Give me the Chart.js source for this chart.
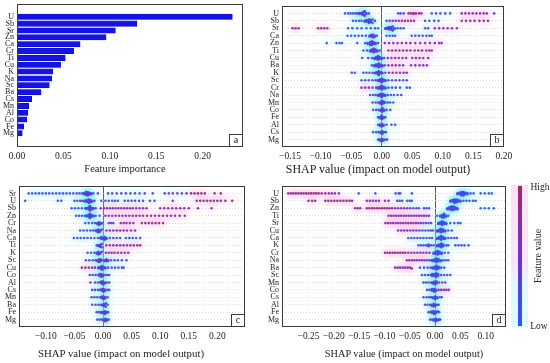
<!DOCTYPE html>
<html>
<head>
<meta charset="utf-8">
<script src="https://cdn.jsdelivr.net/npm/chart.js@4.4.0/dist/chart.umd.min.js"></script>
<style>
  body { margin: 0; background: #fff; width: 550px; height: 363px; overflow: hidden; position: relative; font-family: 'Liberation Serif', 'Times New Roman', serif; color: #222; }
  canvas { position: absolute; }
  .t { position: absolute; white-space: nowrap; transform: translate(-50%, -50%); }
</style>
</head>
<body>
<canvas id="cA" width="262" height="182" style="left:0;top:0"></canvas>
<canvas id="cB" width="288" height="182" style="left:262px;top:0"></canvas>
<canvas id="cC" width="262" height="183" style="left:0;top:180px"></canvas>
<canvas id="cD" width="288" height="183" style="left:262px;top:180px"></canvas>

<div class="t" style="left:125px;top:168px;font-size:10.5px">Feature importance</div>
<div class="t" style="left:378px;top:169px;font-size:12px">SHAP value (impact on model output)</div>
<div class="t" style="left:121px;top:353px;font-size:10.8px">SHAP value (impact on model output)</div>
<div class="t" style="left:404px;top:353px;font-size:10.3px">SHAP value (impact on model output)</div>

<div style="position:absolute;left:511px;top:185px;width:17px;height:142px;background:linear-gradient(#fbe1f5,#f7e6fb 55%,#e2fbfd 72%,#dcfcfe)"></div>
<div id="cbar" style="position:absolute;left:517.5px;top:186px;width:4px;height:140px"></div>
<div class="t" style="left:540px;top:187px;font-size:9.5px">High</div>
<div class="t" style="left:539px;top:326px;font-size:9.5px">Low</div>
<div class="t" style="left:537px;top:256px;font-size:10px;transform:translate(-50%,-50%) rotate(-90deg)">Feature value</div>

<script>
// ---- panel a : mean |SHAP| ----
const featA = ['U','Sb','Sr','Zn','Ca','Cr','Ti','Cu','K','Na','Sc','Ba','Cs','Mn','Al','Co','Fe','Mg'];
const impA = [0.232, 0.129, 0.106, 0.096, 0.068, 0.061, 0.052, 0.047, 0.0385, 0.0374, 0.0348, 0.026, 0.0158, 0.0126, 0.0115, 0.0105, 0.0072, 0.0057];
const tickA = [0, 0.05, 0.10, 0.15, 0.20];

// ---- beeswarm panels : [shap value, feature value (0 low - 1 high), count] ----
const featB = ['U','Sb','Sr','Ca','Zn','Ti','Cu','Ba','K','Sc','Cr','Na','Mn','Co','Fe','Al','Cs','Mg'];
const tickB = [-0.15, -0.10, -0.05, 0, 0.05, 0.10, 0.15, 0.20];
const dotsB = [
  [[-0.060,.1],[-0.055,.1],[-0.051,.15],[-0.047,.1],[-0.043,.15],[-0.040,.2],[-0.037,.2,2],[-0.034,.25,3],[-0.031,.3,6],[-0.028,.3,5],[-0.025,.25,2],[-0.021,.2],
   [0.027,.25],[0.031,.3],[0.036,.3],[0.044,.8],[0.048,.85],[0.052,.9,2],[0.056,.85],[0.061,.8],[0.065,.7],[0.082,.35],[0.089,.3],[0.096,.35],[0.104,.3],[0.112,.4],
   [0.131,.6],[0.137,.7],[0.143,.65],[0.149,.75],[0.155,.8],[0.161,.7],[0.167,.75],[0.172,.6],[0.184,.4]],
  [[-0.047,.1],[-0.042,.1],[-0.037,.15],[-0.033,.15],[-0.028,.2,2],[-0.025,.25,3],[-0.021,.3,6],[-0.018,.3,4],[-0.015,.25,2],[-0.011,.2],
   [0.008,.4],[0.013,.45],[0.018,.5],[0.023,.5],[0.028,.55],[0.033,.75],[0.038,.8],[0.043,.85],[0.048,.8],[0.053,.75],[0.071,.3],[0.078,.35],[0.086,.3],[0.093,.35],
   [0.131,.8],[0.138,.85],[0.145,.8],[0.152,.85],[0.160,.8],[0.167,.85],[0.174,.8]],
  [[-0.146,.8],[-0.141,.75],[-0.136,.8],[-0.104,.85],[-0.099,.8],[-0.094,.85],[-0.089,.75],[-0.055,.15],[-0.048,.1],[-0.040,.15],[-0.033,.1],[-0.025,.15],[-0.018,.2],[-0.011,.2],[-0.006,.25],
   [0.006,.3,2],[0.009,.3,3],[0.012,.35,5],[0.015,.35,5],[0.018,.3,3],[0.021,.3,2],[0.026,.3],[0.031,.25],[0.036,.3],[0.071,.3],[0.076,.35],[0.087,.5],[0.094,.55],[0.101,.5],[0.108,.6],[0.115,.55],[0.123,.5]],
  [[-0.056,.15],[-0.050,.2],[-0.044,.2],[-0.038,.25],[-0.032,.3],[-0.026,.3],[-0.020,.3,2],[-0.017,.35,3],[-0.014,.4,4],[-0.011,.35,2],[-0.008,.3],
   [0.008,.3],[0.013,.35],[0.018,.3],[0.022,.3],[0.049,.3],[0.055,.35],[0.061,.3],[0.067,.35],[0.073,.3],[0.078,.35],[0.082,.3]],
  [[-0.090,.15],[-0.074,.1],[-0.069,.15],[-0.065,.1],[-0.040,.2],[-0.027,.2],[-0.023,.25,2],[-0.019,.3,4],[-0.016,.35,5],[-0.013,.3,3],[-0.010,.3,2],[-0.006,.3],
   [0.005,.6],[0.012,.6],[0.019,.65],[0.026,.6],[0.033,.7],[0.040,.65],[0.047,.6],[0.055,.7],[0.063,.6],[0.071,.65],[0.079,.6],[0.087,.55],[0.094,.6],[0.098,.5]],
  [[-0.030,.2],[-0.024,.25],[-0.019,.3,2],[-0.016,.35,3],[-0.013,.4,5],[-0.010,.35,3],[-0.007,.3,2],[-0.003,.3],
   [0.011,.7],[0.017,.75],[0.023,.8],[0.029,.75],[0.035,.8],[0.041,.75],[0.047,.7],[0.054,.8],[0.060,.75],[0.066,.7],[0.073,.8],[0.078,.75],[0.082,.7]],
  [[-0.032,.15],[-0.022,.2],[-0.016,.25],[-0.012,.3,2],[-0.009,.3,3],[-0.006,.35,5],[-0.003,.3,3],[0.000,.3,2],[0.004,.3],
   [0.010,.6],[0.016,.65],[0.022,.6],[0.028,.65],[0.034,.6],[0.040,.65],[0.050,.6],[0.056,.65],[0.062,.6],[0.068,.55],[0.076,.6]],
  [[-0.016,.2],[-0.012,.25,2],[-0.009,.3,3],[-0.005,.35,5],[-0.002,.3,3],[0.001,.3,2],[0.005,.4],
   [0.011,.6],[0.017,.6],[0.023,.65],[0.029,.6],[0.035,.6],[0.048,.6],[0.055,.55],[0.062,.6],[0.068,.55],[0.074,.6]],
  [[-0.049,.2],[-0.044,.2],[-0.030,.25],[-0.025,.25],[-0.020,.3],[-0.015,.3],[-0.011,.3,2],[-0.008,.35,3],[-0.005,.35,5],[-0.002,.3,3],[0.001,.3,2],
   [0.006,.4],[0.012,.5],[0.018,.55],[0.024,.5],[0.030,.55],[0.036,.5],[0.041,.5]],
  [[-0.033,.2],[-0.027,.25],[-0.021,.3],[-0.015,.3],[-0.010,.3],[-0.006,.3,2],[-0.003,.35,3],[0.000,.4,6],[0.003,.35,3],[0.006,.35,2],
   [0.011,.4],[0.017,.45],[0.023,.4],[0.029,.45],[0.035,.4],[0.041,.45]],
  [[-0.033,.6],[-0.027,.55],[-0.021,.6],[-0.015,.5],[-0.009,.4],[-0.006,.35,2],[-0.003,.35,3],[0.000,.35,5],[0.003,.3,3],[0.006,.3,2],
   [0.011,.3],[0.017,.3],[0.023,.3],[0.030,.3],[0.041,.3],[0.046,.3]],
  [[-0.019,.3],[-0.014,.3],[-0.010,.3],[-0.006,.35,2],[-0.003,.35,3],[0.000,.4,6],[0.003,.35,3],[0.006,.3,2],[0.010,.35],[0.015,.35],[0.020,.4],[0.026,.35],[0.032,.4]],
  [[-0.015,.3],[-0.010,.3],[-0.006,.3],[-0.003,.35,2],[0.000,.35,5],[0.003,.35,3],[0.006,.3],[0.010,.3],[0.014,.35],[0.019,.3]],
  [[-0.014,.3],[-0.009,.3],[-0.005,.3],[-0.002,.35,2],[0.001,.35,5],[0.004,.35,2],[0.008,.3],[0.014,.35]],
  [[-0.006,.3],[-0.003,.35,2],[0.000,.35,5],[0.003,.35,2],[0.006,.3]],
  [[-0.006,.3],[-0.003,.35,2],[0.000,.35,4],[0.003,.35,2],[0.008,.3],[0.016,.35],[0.022,.3]],
  [[-0.014,.3],[-0.009,.3],[-0.005,.3],[-0.002,.35,2],[0.001,.35,4],[0.004,.3],[0.007,.3]],
  [[-0.006,.3],[-0.003,.35,2],[0.000,.35,4],[0.003,.35,2],[0.006,.3],[0.009,.3]]
];

const featC = ['Sr','U','Sb','Zn','Cr','Na','Ca','Ti','K','Sc','Cu','Co','Al','Cs','Mn','Ba','Fe','Mg'];
const tickC = [-0.10, -0.05, 0, 0.05, 0.10, 0.15, 0.20];
const dotsC = [
  [[-0.130,.1],[-0.124,.1],[-0.118,.1],[-0.112,.1],[-0.106,.1],[-0.100,.1],[-0.094,.1],[-0.088,.1],[-0.082,.1],[-0.076,.1],[-0.070,.1],[-0.064,.1],[-0.058,.1],[-0.052,.1],[-0.046,.1],[-0.041,.15],[-0.036,.15],
   [-0.033,.2,2],[-0.030,.25,3],[-0.027,.3,6],[-0.024,.3,4],[-0.021,.25,2],[-0.017,.2],[-0.009,.3],
   [0.009,.3],[0.016,.3],[0.024,.3],[0.032,.35],[0.040,.3],[0.048,.35],[0.056,.3],[0.064,.35],[0.073,.35],[0.087,.4],
   [0.108,.4],[0.115,.4],[0.122,.45],[0.130,.4],[0.138,.45],[0.146,.4],[0.154,.85],[0.160,.85],[0.166,.8],[0.172,.85],[0.178,.8],[0.195,.8],[0.206,.75]],
  [[-0.136,.15],[-0.079,.1],[-0.073,.1],[-0.050,.1],[-0.045,.1],[-0.040,.15],[-0.036,.15],[-0.032,.2,2],[-0.029,.25,3],[-0.025,.3,6],[-0.022,.3,4],[-0.019,.25,2],[-0.015,.2],
   [-0.003,.3],[0.004,.3],[0.010,.3],[0.016,.35],[0.021,.3],[0.026,.35],[0.038,.4],[0.044,.4],[0.050,.45],[0.056,.4],[0.063,.45],[0.070,.4],[0.082,.4],[0.090,.45],[0.122,.5],
   [0.164,.85],[0.170,.85],[0.176,.8],[0.182,.85],[0.188,.8],[0.194,.85],[0.200,.8],[0.206,.85],[0.214,.8],[0.226,.8]],
  [[-0.055,.15],[-0.049,.15],[-0.043,.15],[-0.037,.15],[-0.031,.2],[-0.029,.2,2],[-0.026,.25,3],[-0.023,.3,6],[-0.020,.3,4],[-0.017,.25,2],[-0.013,.25],
   [-0.004,.5],[0.002,.55],[0.007,.6],[0.012,.55],[0.017,.6],[0.022,.65],[0.027,.6],[0.032,.6],[0.037,.65],[0.042,.6],[0.047,.65],[0.052,.6],[0.058,.6],[0.064,.65],[0.070,.6],[0.076,.6],
   [0.100,.7],[0.107,.7],[0.114,.75],[0.121,.7],[0.128,.7],[0.135,.75],[0.142,.7],[0.150,.7],[0.166,.6],[0.190,.6]],
  [[-0.047,.15],[-0.042,.15],[-0.037,.15],[-0.032,.2],[-0.029,.2,2],[-0.026,.25,3],[-0.023,.3,7],[-0.020,.3,4],[-0.017,.25,2],[-0.013,.25],[-0.006,.3],
   [0.004,.6],[0.010,.6],[0.016,.65],[0.022,.6],[0.028,.65],[0.034,.6],[0.040,.7],[0.046,.65],[0.052,.6],[0.058,.7],[0.064,.65],[0.070,.6],[0.077,.7],[0.084,.65],[0.091,.7],[0.098,.65],
   [0.105,.7],[0.112,.65],[0.119,.7],[0.126,.65],[0.134,.7],[0.143,.65]],
  [[-0.031,.2],[-0.025,.2],[-0.019,.2],[-0.014,.25],[-0.010,.3,2],[-0.007,.3,4],[-0.004,.3,2],[-0.001,.3],
   [0.010,.4],[0.014,.4],[0.018,.45],[0.031,.7],[0.036,.7],[0.041,.75],[0.047,.7],[0.053,.7],[0.068,.85],[0.074,.85],[0.080,.85],[0.086,.85],[0.092,.85],[0.098,.85],[0.105,.8]],
  [[-0.040,.2],[-0.034,.2],[-0.028,.2],[-0.022,.2],[-0.017,.25],[-0.013,.25],[-0.011,.3,2],[-0.008,.3,4],[-0.005,.3,2],[-0.002,.3],
   [0.006,.6],[0.012,.6],[0.018,.65],[0.024,.6],[0.030,.6],[0.036,.65],[0.042,.6],[0.049,.6],[0.056,.6]],
  [[-0.051,.2],[-0.045,.2],[-0.039,.2],[-0.033,.2],[-0.027,.2],[-0.021,.2],[-0.015,.25],[-0.009,.25],[-0.005,.3],[-0.003,.3,2],[0.000,.3,2],[0.003,.35,4],[0.006,.3,2],
   [0.012,.3],[0.018,.3],[0.024,.3],[0.030,.3],[0.040,.25],[0.046,.25],[0.052,.25],[0.058,.25],[0.065,.25]],
  [[-0.011,.3],[-0.008,.3,2],[-0.005,.3,4],[-0.002,.3,2],
   [0.006,.7],[0.012,.7],[0.018,.7],[0.024,.7],[0.030,.7],[0.036,.7],[0.042,.7],[0.048,.7],[0.054,.7],[0.060,.7],[0.065,.7]],
  [[-0.027,.2],[-0.021,.2],[-0.015,.25],[-0.011,.3,2],[-0.008,.3,4],[-0.005,.3,2],[-0.002,.3],
   [0.005,.65],[0.010,.65],[0.015,.65],[0.020,.65],[0.026,.65],[0.032,.65],[0.038,.65],[0.044,.65]],
  [[-0.030,.3],[-0.024,.3],[-0.018,.3],[-0.013,.3],[-0.010,.3,2],[-0.007,.35,4],[-0.004,.35,3],[-0.001,.35],[0.003,.4,2],[0.006,.4,3],[0.009,.4,2],
   [0.014,.4],[0.020,.4],[0.026,.4],[0.033,.4],[0.041,.4]],
  [[-0.037,.7],[-0.031,.7],[-0.025,.7],[-0.019,.6],[-0.014,.6],[-0.008,.3,2],[-0.005,.3,3],[-0.002,.35,5],[0.001,.3,3],[0.004,.3,2],
   [0.009,.3],[0.015,.3],[0.021,.3],[0.027,.3],[0.033,.3],[0.036,.3]],
  [[-0.023,.3],[-0.018,.3],[-0.013,.3],[-0.008,.3],[-0.006,.3,2],[-0.003,.35,4],[0.000,.35,2],[0.004,.4],[0.008,.4],[0.011,.4]],
  [[-0.022,.6],[-0.014,.3],[-0.009,.3],[-0.005,.3],[-0.003,.35,2],[0.000,.35,4],[0.003,.35,2],[0.007,.4],[0.011,.4]],
  [[-0.019,.3],[-0.014,.3],[-0.009,.3],[-0.005,.3],[-0.002,.35,2],[0.001,.35,4],[0.004,.35,2],[0.008,.4],[0.011,.4]],
  [[-0.020,.3],[-0.015,.3],[-0.010,.3],[-0.005,.3],[-0.002,.35,2],[0.001,.35,4],[0.004,.35,2],[0.008,.4]],
  [[-0.019,.3],[-0.013,.3],[-0.008,.3],[-0.004,.3],[-0.001,.35,2],[0.002,.35,4],[0.005,.35,2],[0.008,.4]],
  [[-0.011,.3],[-0.007,.3],[-0.003,.35,2],[0.000,.35,2],[0.003,.35,4],[0.006,.35,2],[0.009,.4]],
  [[-0.010,.3],[-0.006,.3],[-0.002,.3],[0.001,.35,2],[0.004,.35,4],[0.007,.35,2],[0.010,.4]]
];

const featD = ['U','Sb','Zn','Ti','Sr','Cu','Ca','K','Cr','Na','Ba','Sc','Mn','Co','Cs','Al','Fe','Mg'];
const tickD = [-0.25, -0.20, -0.15, -0.10, -0.05, 0, 0.05, 0.10];
const dotsD = [
  [[-0.290,.85],[-0.285,.85],[-0.280,.85],[-0.275,.85],[-0.270,.85],[-0.265,.85],[-0.260,.85],[-0.255,.85],[-0.250,.85],[-0.245,.85],[-0.240,.85],[-0.235,.85],[-0.230,.85],[-0.224,.85],
   [-0.217,.7],[-0.210,.7],[-0.204,.7],[-0.198,.7],[-0.190,.5],[-0.151,.4],[-0.118,.3],[-0.078,.3],[-0.072,.3],[-0.069,.3],[-0.046,.25],
   [0.044,.15,2],[0.048,.15,3],[0.052,.2,6],[0.056,.2,6],[0.060,.15,3],[0.064,.15,2],[0.070,.15],[0.076,.15],[0.090,.15],[0.098,.15],[0.106,.15],[0.112,.15]],
  [[-0.250,.8],[-0.243,.8],[-0.237,.8],[-0.217,.85],[-0.211,.85],[-0.205,.85],[-0.199,.85],[-0.193,.85],[-0.187,.85],[-0.181,.85],[-0.175,.85],[-0.169,.85],[-0.164,.85],
   [-0.135,.6],[-0.129,.6],[-0.123,.6],[-0.117,.6],[-0.111,.6],[-0.099,.5],[-0.092,.5],[-0.075,.4],[-0.070,.4],[-0.065,.4],[-0.055,.3],[-0.050,.3],[-0.046,.3],
   [0.030,.15,2],[0.034,.15,3],[0.038,.2,6],[0.042,.2,5],[0.046,.15,3],[0.050,.15,2],[0.056,.15],[0.062,.15],[0.068,.15],[0.075,.15],[0.080,.15]],
  [[-0.158,.7],[-0.153,.7],[-0.148,.7],[-0.135,.85],[-0.130,.85],[-0.125,.85],[-0.120,.85],[-0.115,.85],[-0.110,.85],[-0.105,.85],[-0.100,.85],[-0.095,.85],[-0.090,.85],[-0.085,.85],
   [-0.079,.5],[-0.073,.5],[-0.067,.5],[-0.061,.5],[-0.055,.5],[-0.049,.45],[-0.043,.45],[-0.037,.4],[-0.032,.4],[-0.022,.3],[-0.017,.3],[-0.012,.3],
   [0.024,.15,2],[0.028,.15,3],[0.032,.2,5],[0.036,.2,5],[0.040,.15,3],[0.044,.15,2],[0.090,.15],[0.098,.15],[0.106,.15],[0.116,.15]],
  [[-0.092,.6],[-0.087,.6],[-0.082,.6],[-0.077,.6],[-0.072,.6],[-0.067,.6],[-0.062,.6],[-0.057,.6],[-0.052,.6],[-0.047,.6],[-0.042,.6],[-0.037,.6],[-0.032,.6],[-0.027,.6],[-0.022,.6],[-0.017,.6],[-0.012,.6],
   [0.004,.3],[0.010,.15,2],[0.014,.15,4],[0.018,.2,5],[0.022,.15,2],[0.026,.15]],
  [[-0.098,.75],[-0.093,.75],[-0.088,.75],[-0.083,.75],[-0.078,.75],[-0.073,.75],[-0.068,.75],[-0.063,.75],[-0.058,.7],[-0.053,.7],[-0.048,.65],[-0.043,.6],[-0.038,.55],[-0.033,.5],[-0.028,.5],[-0.023,.45],[-0.018,.4],[-0.013,.4],[-0.008,.35],
   [0.006,.2,2],[0.010,.2,3],[0.014,.2,5],[0.018,.2,3],[0.022,.2,2],[0.030,.2],[0.038,.2],[0.045,.2],[0.050,.2]],
  [[-0.073,.5],[-0.067,.5],[-0.061,.5],[-0.055,.5],[-0.049,.5],[-0.043,.5],[-0.037,.5],[-0.031,.5],[-0.025,.45],[-0.019,.45],[-0.013,.3],[-0.008,.3],[-0.004,.3],
   [0.004,.2,2],[0.008,.2,3],[0.012,.2,5],[0.016,.2,3],[0.020,.2,2],[0.026,.25],[0.033,.25]],
  [[-0.053,.25],[-0.047,.25],[-0.041,.25],[-0.035,.25],[-0.029,.25],[-0.023,.25],[-0.017,.25],[-0.011,.25],[-0.006,.25],
   [0.004,.2,2],[0.008,.2,3],[0.012,.2,5],[0.016,.2,3],[0.020,.2,2],[0.026,.3],[0.032,.3],[0.038,.3],[0.043,.3]],
  [[-0.033,.3],[-0.028,.3],[-0.023,.3],[-0.018,.3],[-0.013,.3,3],[-0.008,.3],[-0.003,.3],
   [0.004,.2,2],[0.008,.2,3],[0.012,.2,5],[0.016,.2,3],[0.022,.3],[0.026,.3],[0.040,.3],[0.046,.3],[0.052,.3],[0.058,.3],[0.066,.3]],
  [[-0.099,.85],[-0.094,.85],[-0.089,.85],[-0.084,.85],[-0.079,.85],[-0.074,.85],[-0.069,.85],[-0.064,.85],[-0.059,.85],[-0.053,.85],
   [-0.047,.5],[-0.041,.5],[-0.035,.5],[-0.029,.5],[-0.023,.5],[-0.017,.5],[-0.011,.5],
   [-0.003,.2,2],[0.001,.2,3],[0.005,.2,5],[0.009,.2,3],[0.013,.2,2],[0.019,.25],[0.026,.25]],
  [[-0.056,.65],[-0.051,.65],[-0.046,.65],[-0.041,.65],[-0.036,.65],[-0.031,.65],[-0.026,.65],[-0.021,.65],[-0.016,.65],[-0.011,.3],[-0.007,.3],
   [-0.005,.2,2],[-0.001,.2,3],[0.003,.2,5],[0.007,.2,3],[0.011,.2,2],[0.016,.3],[0.021,.3],[0.026,.3]],
  [[-0.079,.6],[-0.074,.6],[-0.069,.6],[-0.064,.6],[-0.059,.6],[-0.054,.6],[-0.049,.6],[-0.046,.6],[-0.030,.3],[-0.022,.3],[-0.015,.3],[-0.009,.3],
   [-0.005,.2,2],[-0.001,.2,3],[0.003,.2,5],[0.007,.2,3],[0.012,.3],[0.018,.3]],
  [[-0.026,.3],[-0.020,.3],[-0.014,.3],[-0.009,.3],[-0.006,.2,2],[-0.002,.2,3],[0.002,.2,5],[0.006,.2,3],[0.012,.4],[0.018,.4],[0.024,.4],[0.030,.4]],
  [[-0.023,.3],[-0.018,.3],[-0.013,.3],[-0.008,.3],[-0.005,.2,2],[-0.001,.2,4],[0.003,.2,3],[0.008,.35],[0.014,.35],[0.020,.35]],
  [[-0.016,.3],[-0.011,.3],[-0.007,.3],[-0.006,.2,2],[-0.002,.2,4],[0.002,.2,2],[0.007,.5],[0.012,.5],[0.017,.5],[0.022,.5],[0.027,.5]],
  [[-0.023,.3],[-0.017,.3],[-0.012,.3],[-0.008,.3],[-0.004,.2,2],[0.000,.2,4],[0.004,.2,2],[0.009,.3],[0.013,.3]],
  [[-0.020,.3],[-0.015,.3],[-0.010,.3],[-0.007,.2,2],[-0.003,.2,4],[0.001,.2,2],[0.004,.3],[0.007,.3]],
  [[-0.013,.3],[-0.009,.3],[-0.006,.2,2],[-0.002,.2,4],[0.002,.2,2],[0.005,.3],[0.008,.3]],
  [[-0.010,.3],[-0.006,.3],[-0.003,.2,2],[0.001,.2,4],[0.005,.2,2],[0.008,.3],[0.010,.3]]
];

// low -> high colour ramp
const cmapStops = [[0, [45, 85, 255]], [0.5, [115, 50, 195]], [1, [155, 42, 110]]];

function cmap(v, a = 1) {
  let i = 0;
  while (i < cmapStops.length - 2 && v > cmapStops[i + 1][0]) i++;
  const [p0, c0] = cmapStops[i], [p1, c1] = cmapStops[i + 1];
  const t = Math.min(1, Math.max(0, (v - p0) / (p1 - p0)));
  const c = c0.map((x, k) => Math.round(x + (c1[k] - x) * t));
  return `rgba(${c[0]},${c[1]},${c[2]},${a})`;
}

document.getElementById('cbar').style.background =
  'linear-gradient(to top,' + cmapStops.map(s => cmap(s[0]) + ' ' + (s[0] * 100) + '%').join(',') + ')';

const serif = "'Liberation Serif', 'Times New Roman', serif";
const fmt = v => (v < -1e-9 ? '\u2212' : '') + Math.abs(v).toFixed(2);

// beeswarm stacking like shap.summary_plot: bin the values, stack the points in a bin
function swarm(rows, binW) {
  const pts = [], cols = [];
  rows.forEach((row, i) => {
    const list = [];
    row.forEach(([x, v, n = 1]) => { for (let k = 0; k < n; k++) list.push([x, v]); });
    list.sort((p, q) => p[0] - q[0]);
    let last = null, layer = 0;
    const ys = list.map(([x]) => {
      const b = Math.round(x / binW);
      if (b !== last) layer = 0;
      const y = Math.ceil(layer / 2) * ((layer % 2) * 2 - 1);
      layer++; last = b;
      return y;
    });
    const top = Math.max(...ys.map(Math.abs)) + 1;
    list.forEach(([x, v], k) => { pts.push({ x, y: i + ys[k] * 0.36 / top }); cols.push(v); });
  });
  return { pts, cols };
}

const framePlugin = {
  id: 'frame',
  afterDraw(chart, args, opts) {
    const { ctx, chartArea: a } = chart;
    ctx.save();
    ctx.strokeStyle = '#3a3a3a';
    ctx.lineWidth = 1;
    ctx.strokeRect(a.left + 0.5, a.top + 0.5, a.right - a.left - 1, a.bottom - a.top - 1);
    const w = 14, h = 13;
    ctx.fillStyle = '#fff';
    ctx.fillRect(a.right - w, a.bottom - h, w, h);
    ctx.strokeRect(a.right - w + 0.5, a.bottom - h + 0.5, w - 1, h - 1);
    ctx.fillStyle = '#222';
    ctx.font = '10px ' + serif;
    ctx.textAlign = 'center';
    ctx.textBaseline = 'middle';
    ctx.fillText(opts.letter, a.right - w / 2, a.bottom - h / 2);
    ctx.restore();
  }
};

function xScale(ticks, min, max, H, box, zero) {
  return {
    type: 'linear', min, max,
    afterBuildTicks: s => { s.ticks = ticks.map(v => ({ value: v })); },
    afterFit: s => { s.height = H - box.b; s.paddingLeft = 0; s.paddingRight = 0; },
    ticks: { autoSkip: false, maxRotation: 0, padding: 4, color: '#222', font: { family: serif, size: 9.5 }, callback: fmt },
    grid: zero
      ? { drawTicks: false, lineWidth: 1, color: c => (c.tick && Math.abs(c.tick.value) < 1e-9) ? '#555' : 'rgba(0,0,0,0)' }
      : { display: false, drawTicks: false },
    border: { display: false }
  };
}

function yScale(feat, min, max, box, rowLines) {
  return {
    type: 'linear', reverse: true, min, max,
    afterBuildTicks: s => { s.ticks = feat.map((f, i) => ({ value: i })); },
    afterFit: s => { s.width = box.l; s.paddingTop = 0; s.paddingBottom = 0; },
    ticks: { autoSkip: false, padding: 3, color: '#222', font: { family: serif, size: 8 }, callback: v => feat[v] },
    grid: rowLines ? { drawTicks: false, color: '#cfcfcf', lineWidth: 0.8 } : { display: false, drawTicks: false },
    border: { display: false, dash: [1, 2] }
  };
}

function baseOptions(W, box, letter) {
  return {
    responsive: false, animation: false, events: [],
    layout: { padding: { left: 0, top: box.t, right: W - box.r, bottom: 0 } },
    plugins: { legend: { display: false }, tooltip: { enabled: false }, frame: { letter } }
  };
}

// panel a
(function () {
  const W = 262, H = 182, box = { l: 17, t: 4, r: 243, b: 147 };
  const opts = baseOptions(W, box, 'a');
  opts.indexAxis = 'y';
  opts.scales = {
    x: xScale(tickA, 0, 0.2435, H, box, false),
    y: yScale(featA, -1.28, 18.42, box, false)
  };
  new Chart(document.getElementById('cA'), {
    type: 'bar',
    data: { datasets: [{ data: impA.map((v, i) => ({ x: v, y: i })), backgroundColor: '#1414e8', borderColor: '#0a0ab4', borderWidth: 0.6, barThickness: 5.4 }] },
    options: opts,
    plugins: [framePlugin]
  });
})();

function beeswarm(id, W, H, box, feat, dots, ticks, min, max, letter) {
  const { pts, cols } = swarm(dots, 2 * (max - min) / (box.r - box.l));
  const opts = baseOptions(W, box, letter);
  opts.scales = {
    x: xScale(ticks, min, max, H, box, true),
    y: yScale(feat, -1, 18, box, true)
  };
  new Chart(document.getElementById(id), {
    type: 'scatter',
    data: {
      datasets: [
        { data: pts, pointRadius: 1.3, pointBorderWidth: 0, pointHoverRadius: 0, pointBackgroundColor: cols.map(v => cmap(v, 0.92)) },
        { data: pts, pointRadius: 6, pointBorderWidth: 0, pointHoverRadius: 0,
          pointBackgroundColor: cols.map(v => v < 0.5 ? 'rgba(120,235,255,0.06)' : 'rgba(255,150,215,0.08)') }
      ]
    },
    options: opts,
    plugins: [framePlugin]
  });
}

beeswarm('cB', 288, 182, { l: 20, t: 4, r: 242, b: 147 }, featB, dotsB, tickB, -0.1632, 0.2002, 'b');
beeswarm('cC', 262, 183, { l: 19, t: 6, r: 245, b: 147 }, featC, dotsC, tickC, -0.1469, 0.2483, 'c');
beeswarm('cD', 288, 183, { l: 20, t: 5, r: 244, b: 147 }, featD, dotsD, tickD, -0.3024, 0.140, 'd');
</script>
</body>
</html>
